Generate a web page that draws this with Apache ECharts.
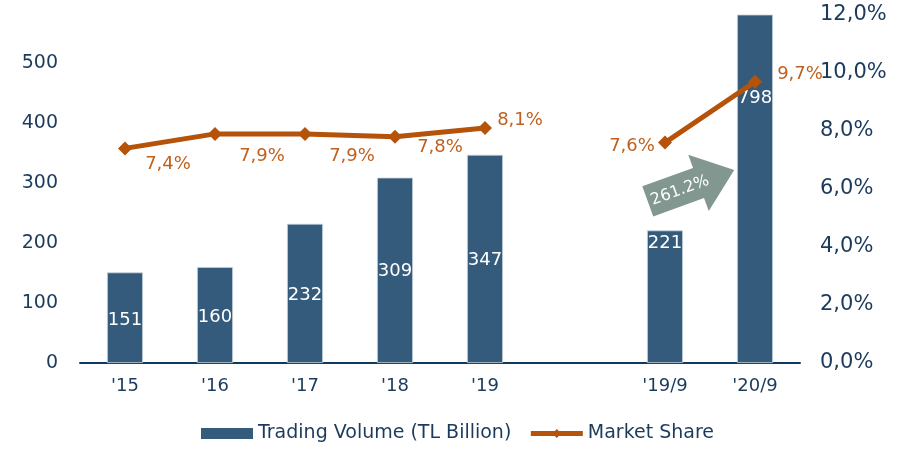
<!DOCTYPE html>
<html><head><meta charset="utf-8">
<script src="https://cdn.jsdelivr.net/npm/echarts@6/dist/echarts.min.js"></script>
<style>html,body{margin:0;padding:0;background:#fff}#c{width:915px;height:449px}</style>
</head><body><div id="c"></div>
<script>
const categories = ["'15", "'16", "'17", "'18", "'19", "", "'19/9", "'20/9"];
const volume = [151, 160, 232, 309, 347, null, 221, 798];
const share = [7.4, 7.9, 7.9, 7.8, 8.1, null, 7.6, 9.7];
const shareLabels = ["7,4%", "7,9%", "7,9%", "7,8%", "8,1%", "", "7,6%", "9,7%"];
const growthText = "261.2%";

const FONT = "DejaVu Sans";
const NAVY = "#1b3a5c";
const BAR = "#345b7c";
const ORANGE = "#b5530a";

const barLabelPos = [
  {position: 'inside', offset: [0, 3]}, {position: 'inside', offset: [0, 2]}, {position: 'inside', offset: [0, 2]},
  {position: 'inside', offset: [0, 1]}, {position: 'inside', offset: [0, 1]},
  null, {position: 'insideTop', offset: [0, -1]}, {position: 'insideTop', offset: [0, 70]}
];
const lineLabelOffset = [[43,16],[47,22],[47,22],[45,11],[35,-8],null,[-33,4],[45,-7]];

const chart = echarts.init(document.getElementById('c'));
chart.setOption({
  animation: false,
  textStyle: {fontFamily: FONT},
  grid: {left: 80, right: 115, top: 15, bottom: 86, containLabel: false},
  legend: {
    bottom: 1, left: 'center', itemWidth: 52, itemHeight: 11, itemGap: 17,
    textStyle: {fontFamily: FONT, fontSize: 19, color: NAVY},
    data: [{name: 'Trading Volume (TL Billion)', icon: 'rect', itemStyle: {borderWidth: 0}},
           {name: 'Market Share', lineStyle: {width: 5}}]
  },
  xAxis: {
    type: 'category', data: categories,
    axisTick: {show: false},
    axisLine: {lineStyle: {color: '#0e3a62', width: 2}},
    axisLabel: {fontFamily: FONT, fontSize: 18, color: NAVY, margin: 14}
  },
  yAxis: [
    {type: 'value', min: 0, max: 580, interval: 100, splitLine: {show: false},
     axisLine: {show: false}, axisTick: {show: false},
     axisLabel: {fontFamily: FONT, fontSize: 19, color: NAVY, margin: 22, showMaxLabel: false}},
    {type: 'value', min: 0, max: 12, interval: 2, splitLine: {show: false},
     axisLine: {show: false}, axisTick: {show: false},
     axisLabel: {fontFamily: FONT, fontSize: 21, color: NAVY, margin: 20,
       formatter: v => v.toFixed(1).replace('.', ',') + '%'}}
  ],
  series: [
    {name: 'Trading Volume (TL Billion)', type: 'bar', barWidth: 36,
     itemStyle: {color: BAR, borderColor: '#c9d3dc', borderWidth: 0.8},
     data: volume.map((v, i) => v == null ? null : {
       value: v,
       label: Object.assign({show: true, color: '#fff', fontFamily: FONT, fontSize: 18}, barLabelPos[i])
     })},
    {name: 'Market Share', type: 'line', yAxisIndex: 1,
     symbol: 'diamond', symbolSize: 14,
     lineStyle: {color: ORANGE, width: 5}, itemStyle: {color: ORANGE},
     data: share.map((v, i) => v == null ? null : {
       value: v,
       label: {show: true, position: 'inside', offset: lineLabelOffset[i], formatter: shareLabels[i],
         color: '#c0601e', fontFamily: FONT, fontSize: 18}
     })}
  ]
});

// growth arrow annotation placed between the last two categories
const p = chart.convertToPixel({xAxisIndex: 0, yAxisIndex: 1}, [6, 6.15]);
const cx = p[0] + 26, cy = p[1] + 1;
const ang = 20 * Math.PI / 180;
chart.setOption({
  graphic: [{
    type: 'group', x: cx, y: cy, rotation: ang, z: 100,
    children: [
      {type: 'polygon', shape: {points: [[-46,-16],[8,-16],[8,-30],[46,0],[8,30],[8,16],[-46,16]]},
       style: {fill: '#82978f'}},
      {type: 'text', x: -12, y: 1, style: {text: growthText, fill: '#fff', font: '16px "DejaVu Sans"',
        align: 'center', verticalAlign: 'middle'}}
    ]
  }]
});
</script></body></html>
